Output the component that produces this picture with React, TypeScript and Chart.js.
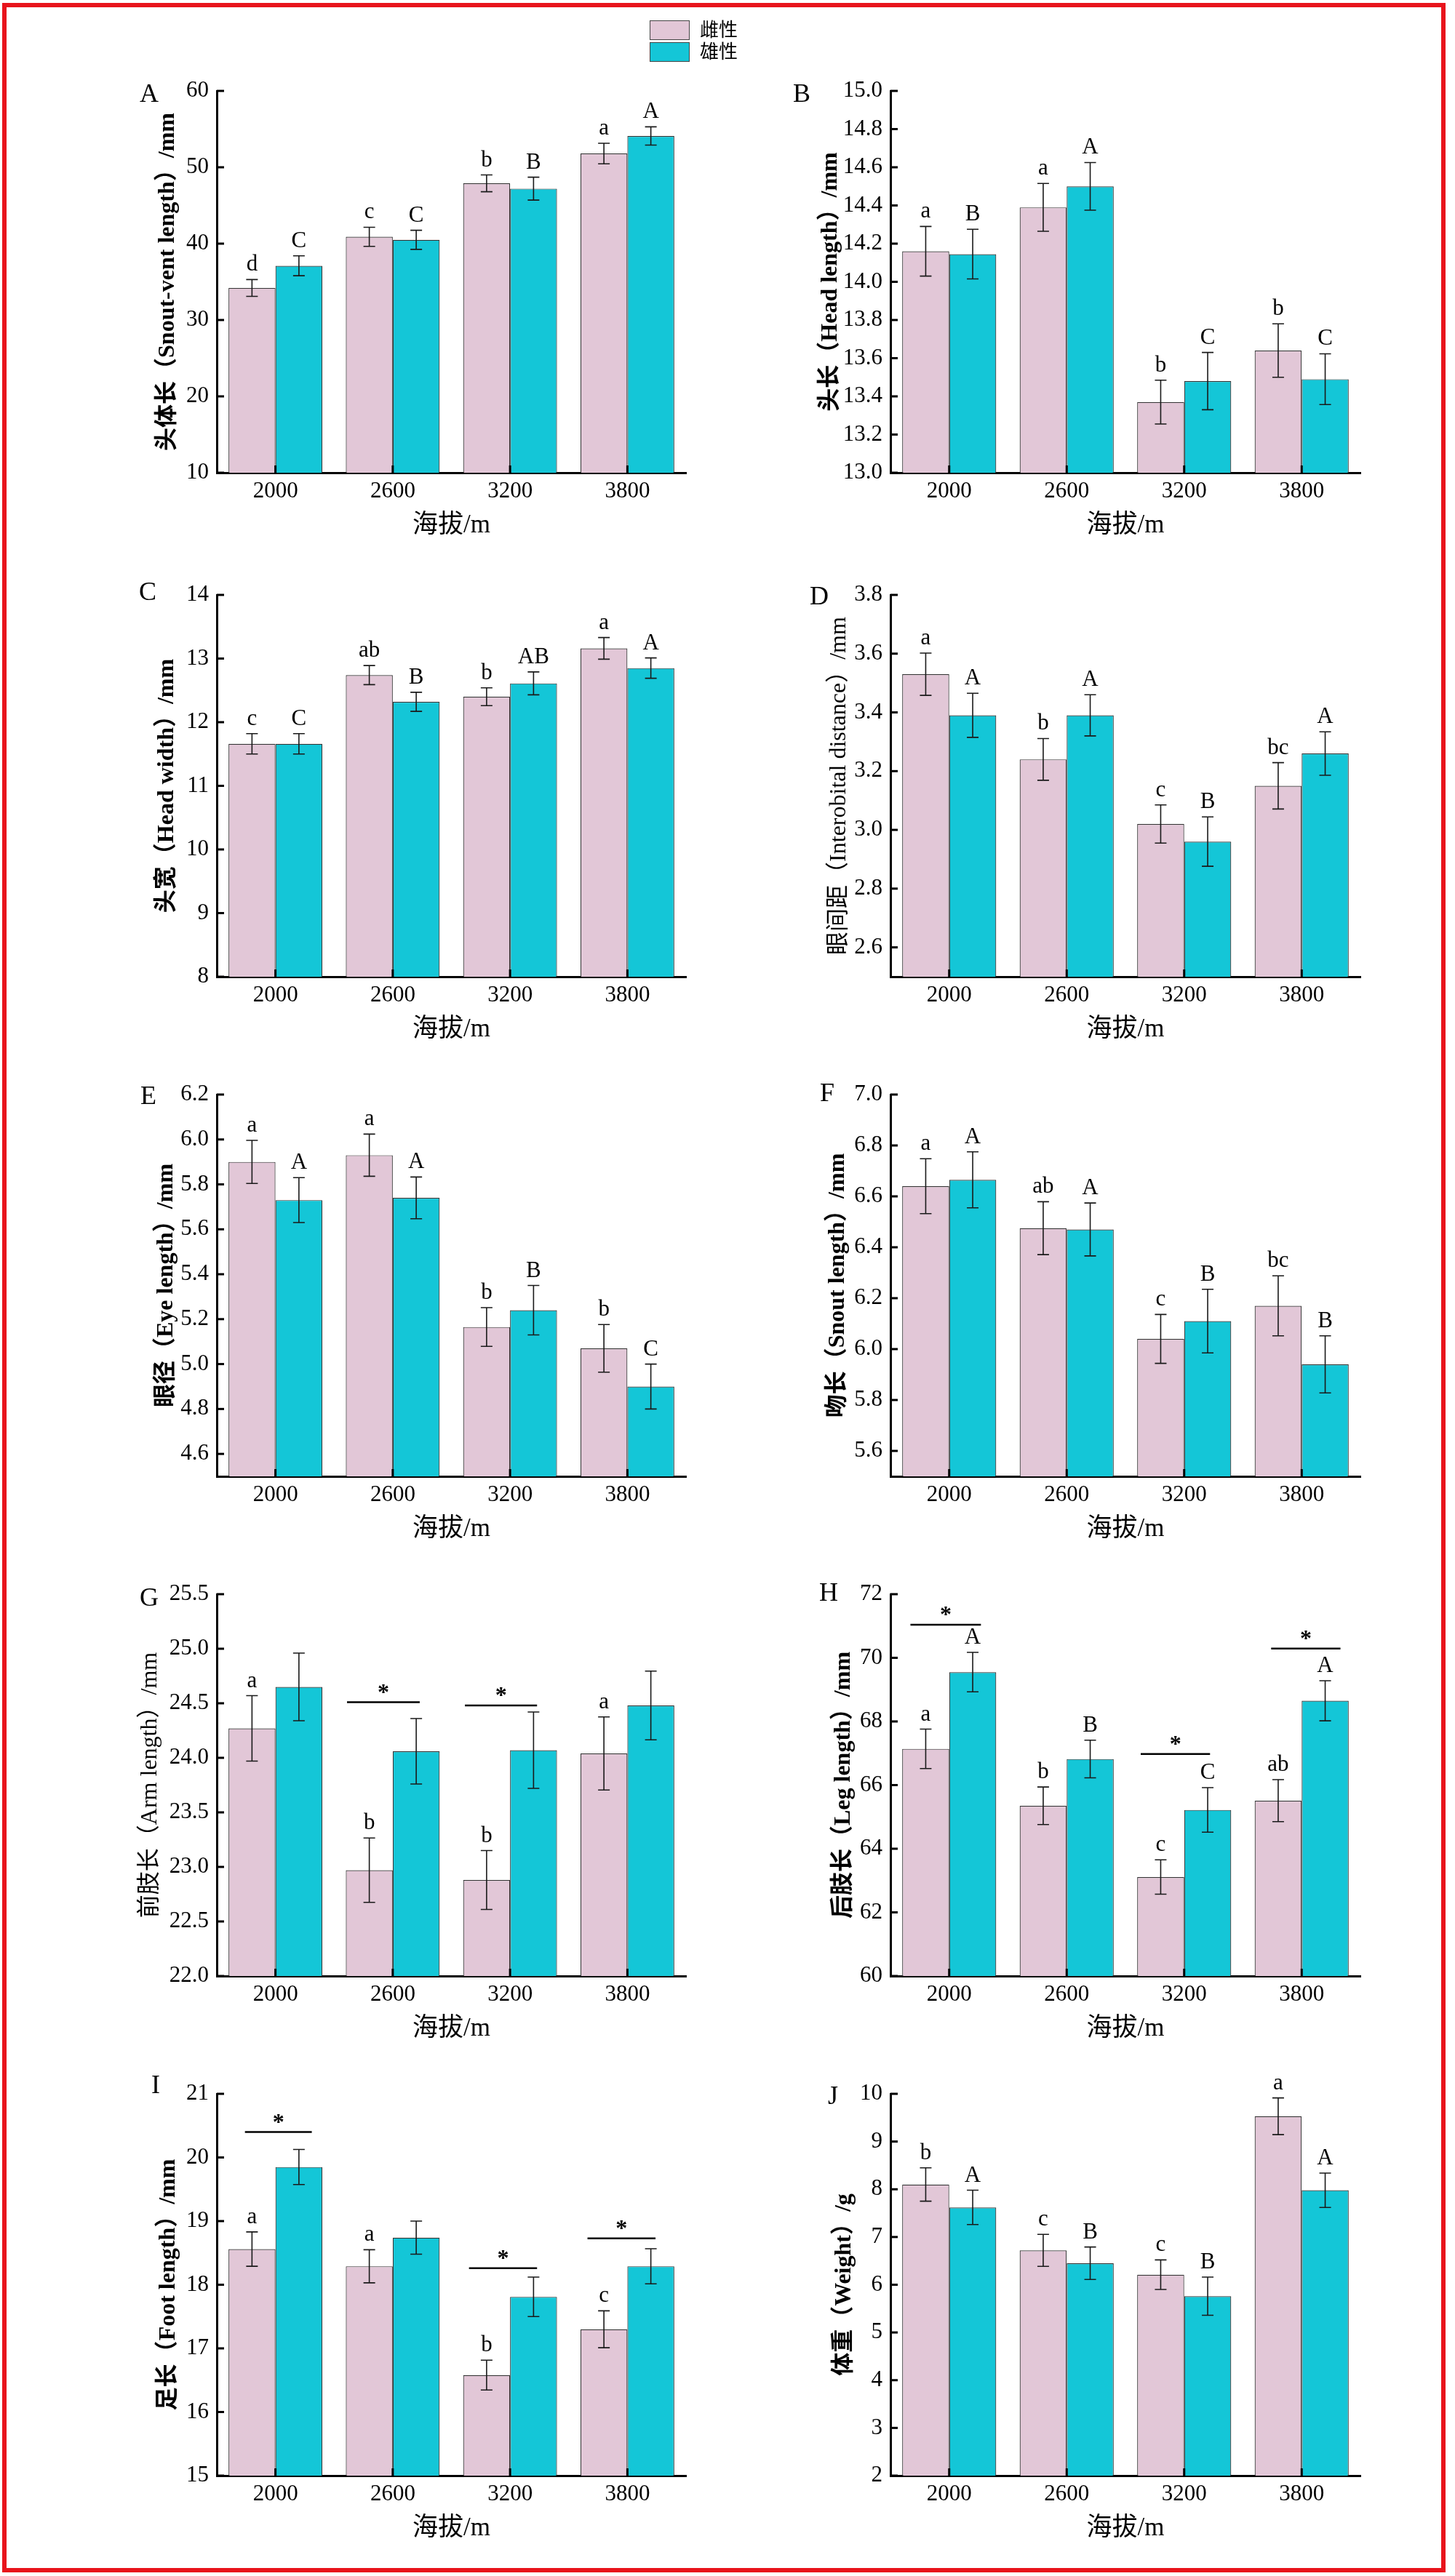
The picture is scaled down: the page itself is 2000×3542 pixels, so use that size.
import React, { useEffect, useRef } from 'react';
import { Chart, registerables } from 'chart.js';

Chart.register(...registerables);

// ---------- data ----------
const altitudes = ['2000', '2600', '3200', '3800'];
const seriesNames = ['雌性', '雄性'];

// A 头体长
const svlFemale = [34.2, 40.9, 47.9, 51.8];
const svlFemaleErr = [1.1, 1.25, 1.1, 1.35];
const svlMale = [37.1, 40.5, 47.2, 54.1];
const svlMaleErr = [1.3, 1.25, 1.5, 1.2];
const svlFemaleLetters = ['d', 'c', 'b', 'a'];
const svlMaleLetters = ['C', 'C', 'B', 'A'];
const svlTicks = [10, 20, 30, 40, 50, 60];

// B 头长
const hlFemale = [14.16, 14.39, 13.37, 13.64];
const hlFemaleErr = [0.13, 0.125, 0.115, 0.14];
const hlMale = [14.145, 14.5, 13.48, 13.49];
const hlMaleErr = [0.13, 0.125, 0.15, 0.133];
const hlFemaleLetters = ['a', 'a', 'b', 'b'];
const hlMaleLetters = ['B', 'A', 'C', 'C'];
const hlTicks = [13.0, 13.2, 13.4, 13.6, 13.8, 14.0, 14.2, 14.4, 14.6, 14.8, 15.0];

// C 头宽
const hwFemale = [11.66, 12.74, 12.4, 13.16];
const hwFemaleErr = [0.16, 0.15, 0.14, 0.17];
const hwMale = [11.66, 12.32, 12.61, 12.85];
const hwMaleErr = [0.16, 0.15, 0.18, 0.16];
const hwFemaleLetters = ['c', 'ab', 'b', 'a'];
const hwMaleLetters = ['C', 'B', 'AB', 'A'];
const hwTicks = [8, 9, 10, 11, 12, 13, 14];

// D 眼间距
const iodFemale = [3.53, 3.24, 3.02, 3.15];
const iodFemaleErr = [0.072, 0.071, 0.065, 0.079];
const iodMale = [3.39, 3.39, 2.96, 3.26];
const iodMaleErr = [0.075, 0.07, 0.084, 0.074];
const iodFemaleLetters = ['a', 'b', 'c', 'bc'];
const iodMaleLetters = ['A', 'A', 'B', 'A'];
const iodTicks = [2.6, 2.8, 3.0, 3.2, 3.4, 3.6, 3.8];

// E 眼径
const edFemale = [5.9, 5.93, 5.165, 5.07];
const edFemaleErr = [0.096, 0.094, 0.086, 0.106];
const edMale = [5.73, 5.74, 5.24, 4.9];
const edMaleErr = [0.1, 0.093, 0.11, 0.1];
const edFemaleLetters = ['a', 'a', 'b', 'b'];
const edMaleLetters = ['A', 'A', 'B', 'C'];
const edTicks = [4.6, 4.8, 5.0, 5.2, 5.4, 5.6, 5.8, 6.0, 6.2];

// F 吻长
const slFemale = [6.64, 6.475, 6.04, 6.17];
const slFemaleErr = [0.108, 0.104, 0.096, 0.118];
const slMale = [6.665, 6.47, 6.11, 5.94];
const slMaleErr = [0.11, 0.104, 0.125, 0.112];
const slFemaleLetters = ['a', 'ab', 'c', 'bc'];
const slMaleLetters = ['A', 'A', 'B', 'B'];
const slTicks = [5.6, 5.8, 6.0, 6.2, 6.4, 6.6, 6.8, 7.0];

// G 前肢长
const armFemale = [24.27, 22.97, 22.88, 24.04];
const armFemaleErr = [0.3, 0.295, 0.27, 0.335];
const armMale = [24.65, 24.06, 24.07, 24.48];
const armMaleErr = [0.31, 0.3, 0.35, 0.315];
const armFemaleLetters = ['a', 'b', 'b', 'a'];
const armMaleLetters = ['', '', '', ''];
const armTicks = [22.0, 22.5, 23.0, 23.5, 24.0, 24.5, 25.0, 25.5];
const armSigCats = [1, 2];
const armSigLevels = [24.51, 24.48];
const armSigFrom = [-0.39, -0.385];
const armSigTo = [0.23, 0.23];

// H 后肢长
const legFemale = [67.14, 65.35, 63.11, 65.51];
const legFemaleErr = [0.62, 0.59, 0.54, 0.66];
const legMale = [69.55, 66.82, 65.22, 68.65];
const legMaleErr = [0.62, 0.59, 0.7, 0.63];
const legFemaleLetters = ['a', 'b', 'c', 'ab'];
const legMaleLetters = ['A', 'B', 'C', 'A'];
const legTicks = [60, 62, 64, 66, 68, 70, 72];
const legSigCats = [0, 2, 3];
const legSigLevels = [71.04, 66.98, 70.29];
const legSigFrom = [-0.33, -0.37, -0.26];
const legSigTo = [0.27, 0.22, 0.33];

// I 足长
const footFemale = [18.56, 18.29, 16.58, 17.3];
const footFemaleErr = [0.27, 0.26, 0.235, 0.29];
const footMale = [19.85, 18.74, 17.81, 18.29];
const footMaleErr = [0.275, 0.26, 0.31, 0.275];
const footFemaleLetters = ['a', 'a', 'b', 'c'];
const footMaleLetters = ['', '', '', ''];
const footTicks = [15, 16, 17, 18, 19, 20, 21];
const footSigCats = [0, 2, 3];
const footSigLevels = [20.4, 18.26, 18.73];
const footSigFrom = [-0.26, -0.35, -0.34];
const footSigTo = [0.31, 0.23, 0.24];

// J 体重
const wtFemale = [8.1, 6.72, 6.21, 9.53];
const wtFemaleErr = [0.35, 0.335, 0.31, 0.385];
const wtMale = [7.62, 6.45, 5.76, 7.98];
const wtMaleErr = [0.36, 0.34, 0.4, 0.36];
const wtFemaleLetters = ['b', 'c', 'c', 'a'];
const wtMaleLetters = ['A', 'B', 'B', 'A'];
const wtTicks = [2, 3, 4, 5, 6, 7, 8, 9, 10];

// ---------- style / layout ----------
const FONT = '"Liberation Serif", "Noto Sans CJK SC", serif';
const PINK = '#E2C7D7';
const CYAN = '#14C6D7';
const ROW_TOPS = [125, 818, 1505, 2192, 2879];
const COL_X = [0, 1000];
const AXIS_X = [298, 1224];
const AREA_RIGHT = [943, 1870];
const PAD_TOP = 110;
const AREA_H = 525;
const XAXIS_H = 94;
const CANVAS_W = 1000;
const CANVAS_H = PAD_TOP + AREA_H + XAXIS_H;

type Panel = {
  key: string;
  title: string;
  female: number[];
  femaleErr: number[];
  male: number[];
  maleErr: number[];
  femaleLetters: string[];
  maleLetters: string[];
  ticks: number[];
  min: number;
  max: number;
  decimals: number;
  sigCats: number[];
  sigLevels: number[];
  sigFrom: number[];
  sigTo: number[];
  col: number;
  row: number;
  titleOffset: number;
  titleBold: boolean;
  letterX: number;
  letterDy: number;
};

const panels: Panel[] = [
  { key: 'A', title: '头体长（Snout-vent length）/mm', female: svlFemale, femaleErr: svlFemaleErr, male: svlMale, maleErr: svlMaleErr, femaleLetters: svlFemaleLetters, maleLetters: svlMaleLetters, ticks: svlTicks, min: 10, max: 60, decimals: 0, sigCats: [], sigLevels: [], sigFrom: [], sigTo: [], col: 0, row: 0, titleOffset: 67, titleBold: true, letterX: 205, letterDy: 6 },
  { key: 'B', title: '头长（Head length）/mm', female: hlFemale, femaleErr: hlFemaleErr, male: hlMale, maleErr: hlMaleErr, femaleLetters: hlFemaleLetters, maleLetters: hlMaleLetters, ticks: hlTicks, min: 13, max: 15, decimals: 1, sigCats: [], sigLevels: [], sigFrom: [], sigTo: [], col: 1, row: 0, titleOffset: 82, titleBold: true, letterX: 1102, letterDy: 6 },
  { key: 'C', title: '头宽（Head width）/mm', female: hwFemale, femaleErr: hwFemaleErr, male: hwMale, maleErr: hwMaleErr, femaleLetters: hwFemaleLetters, maleLetters: hwMaleLetters, ticks: hwTicks, min: 8, max: 14, decimals: 0, sigCats: [], sigLevels: [], sigFrom: [], sigTo: [], col: 0, row: 1, titleOffset: 68, titleBold: true, letterX: 203, letterDy: -2 },
  { key: 'D', title: '眼间距（Interobital distance）/mm', female: iodFemale, femaleErr: iodFemaleErr, male: iodMale, maleErr: iodMaleErr, femaleLetters: iodFemaleLetters, maleLetters: iodMaleLetters, ticks: iodTicks, min: 2.5, max: 3.8, decimals: 1, sigCats: [], sigLevels: [], sigFrom: [], sigTo: [], col: 1, row: 1, titleOffset: 70, titleBold: false, letterX: 1126, letterDy: 4 },
  { key: 'E', title: '眼径（Eye length）/mm', female: edFemale, femaleErr: edFemaleErr, male: edMale, maleErr: edMaleErr, femaleLetters: edFemaleLetters, maleLetters: edMaleLetters, ticks: edTicks, min: 4.5, max: 6.2, decimals: 1, sigCats: [], sigLevels: [], sigFrom: [], sigTo: [], col: 0, row: 2, titleOffset: 69, titleBold: true, letterX: 204, letterDy: 4 },
  { key: 'F', title: '吻长（Snout length）/mm', female: slFemale, femaleErr: slFemaleErr, male: slMale, maleErr: slMaleErr, femaleLetters: slFemaleLetters, maleLetters: slMaleLetters, ticks: slTicks, min: 5.5, max: 7.0, decimals: 1, sigCats: [], sigLevels: [], sigFrom: [], sigTo: [], col: 1, row: 2, titleOffset: 72, titleBold: true, letterX: 1137, letterDy: 0 },
  { key: 'G', title: '前肢长（Arm length）/mm', female: armFemale, femaleErr: armFemaleErr, male: armMale, maleErr: armMaleErr, femaleLetters: armFemaleLetters, maleLetters: armMaleLetters, ticks: armTicks, min: 22, max: 25.5, decimals: 1, sigCats: armSigCats, sigLevels: armSigLevels, sigFrom: armSigFrom, sigTo: armSigTo, col: 0, row: 3, titleOffset: 91, titleBold: false, letterX: 205, letterDy: 7 },
  { key: 'H', title: '后肢长（Leg length）/mm', female: legFemale, femaleErr: legFemaleErr, male: legMale, maleErr: legMaleErr, femaleLetters: legFemaleLetters, maleLetters: legMaleLetters, ticks: legTicks, min: 60, max: 72, decimals: 0, sigCats: legSigCats, sigLevels: legSigLevels, sigFrom: legSigFrom, sigTo: legSigTo, col: 1, row: 3, titleOffset: 64, titleBold: true, letterX: 1139, letterDy: 0 },
  { key: 'I', title: '足长（Foot length）/mm', female: footFemale, femaleErr: footFemaleErr, male: footMale, maleErr: footMaleErr, femaleLetters: footFemaleLetters, maleLetters: footMaleLetters, ticks: footTicks, min: 15, max: 21, decimals: 0, sigCats: footSigCats, sigLevels: footSigLevels, sigFrom: footSigFrom, sigTo: footSigTo, col: 0, row: 4, titleOffset: 66, titleBold: true, letterX: 214, letterDy: -10 },
  { key: 'J', title: '体重（Weight）/g', female: wtFemale, femaleErr: wtFemaleErr, male: wtMale, maleErr: wtMaleErr, femaleLetters: wtFemaleLetters, maleLetters: wtMaleLetters, ticks: wtTicks, min: 2, max: 10, decimals: 0, sigCats: [], sigLevels: [], sigFrom: [], sigTo: [], col: 1, row: 4, titleOffset: 63, titleBold: true, letterX: 1145, letterDy: 5 },
];

function makeOverlay(p: Panel) {
  return {
    id: 'overlay' + p.key,
    afterDatasetsDraw(chart: any) {
      const ctx = chart.ctx as CanvasRenderingContext2D;
      const xs = chart.scales.x;
      const ys = chart.scales.y;
      const area = chart.chartArea;
      ctx.save();
      // inward ticks
      ctx.strokeStyle = '#000';
      ctx.lineWidth = 3;
      ys.ticks.forEach((t: any) => {
        const py = ys.getPixelForValue(t.value);
        ctx.beginPath();
        ctx.moveTo(area.left, py);
        ctx.lineTo(area.left + 10, py);
        ctx.stroke();
      });
      altitudes.forEach((_, i) => {
        const px = xs.getPixelForValue(i);
        ctx.beginPath();
        ctx.moveTo(px, area.bottom);
        ctx.lineTo(px, area.bottom - 10);
        ctx.stroke();
      });
      // error bars + letters
      const groups: [number[], number[], string[]][] = [
        [p.female, p.femaleErr, p.femaleLetters],
        [p.male, p.maleErr, p.maleLetters],
      ];
      groups.forEach(([means, errs, letters], di) => {
        const meta = chart.getDatasetMeta(di);
        meta.data.forEach((el: any, j: number) => {
          const cx = el.x;
          const top = ys.getPixelForValue(means[j] + errs[j]);
          const bot = ys.getPixelForValue(means[j] - errs[j]);
          ctx.strokeStyle = '#1a1a1a';
          ctx.lineWidth = 1.6;
          ctx.beginPath();
          ctx.moveTo(cx, top);
          ctx.lineTo(cx, bot);
          ctx.moveTo(cx - 8, top);
          ctx.lineTo(cx + 8, top);
          ctx.moveTo(cx - 8, bot);
          ctx.lineTo(cx + 8, bot);
          ctx.stroke();
          if (letters[j]) {
            ctx.fillStyle = '#000';
            ctx.font = `31px ${FONT}`;
            ctx.textAlign = 'center';
            ctx.textBaseline = 'alphabetic';
            ctx.fillText(letters[j], cx, top - 12);
          }
        });
      });
      // significance lines
      p.sigCats.forEach((c, k) => {
        const x1 = xs.getPixelForValue(c + p.sigFrom[k]);
        const x2 = xs.getPixelForValue(c + p.sigTo[k]);
        const py = ys.getPixelForValue(p.sigLevels[k]);
        ctx.strokeStyle = '#000';
        ctx.lineWidth = 2.5;
        ctx.beginPath();
        ctx.moveTo(x1, py);
        ctx.lineTo(x2, py);
        ctx.stroke();
        ctx.fillStyle = '#000';
        ctx.font = `bold 32px ${FONT}`;
        ctx.textAlign = 'center';
        ctx.textBaseline = 'alphabetic';
        ctx.fillText('*', (x1 + x2) / 2, py - 4);
      });
      // panel letter
      ctx.fillStyle = '#000';
      ctx.font = `36px ${FONT}`;
      ctx.textAlign = 'center';
      ctx.textBaseline = 'middle';
      ctx.fillText(p.key, p.letterX - COL_X[p.col], area.top + p.letterDy);
      ctx.restore();
    },
  };
}

function PanelChart({ p }: { p: Panel }) {
  const ref = useRef<HTMLCanvasElement>(null);
  useEffect(() => {
    if (!ref.current) return;
    const axisOff = AXIS_X[p.col] - COL_X[p.col];
    const rightPad = CANVAS_W - (AREA_RIGHT[p.col] - COL_X[p.col]);
    const chart = new Chart(ref.current, {
      type: 'bar',
      data: {
        labels: altitudes,
        datasets: [
          { label: seriesNames[0], data: p.female, backgroundColor: PINK, borderColor: '#333', borderWidth: 1.2, barPercentage: 1, categoryPercentage: 0.8 },
          { label: seriesNames[1], data: p.male, backgroundColor: CYAN, borderColor: '#333', borderWidth: 1.2, barPercentage: 1, categoryPercentage: 0.8 },
        ],
      },
      options: {
        animation: false,
        responsive: true,
        maintainAspectRatio: false,
        events: [],
        layout: { padding: { top: PAD_TOP, left: 0, right: rightPad, bottom: 0 } },
        plugins: { legend: { display: false }, tooltip: { enabled: false }, title: { display: false } },
        scales: {
          x: {
            type: 'category',
            grid: { display: false, drawTicks: false },
            border: { display: true, color: '#000', width: 3 },
            ticks: { color: '#000', font: { family: FONT, size: 31 }, padding: 7, maxRotation: 0 },
            title: { display: true, text: '海拔/m', color: '#000', font: { family: FONT, size: 35 }, padding: 0 },
            afterFit: (s: any) => { s.height = XAXIS_H; },
          },
          y: {
            type: 'linear',
            min: p.min,
            max: p.max,
            grid: { display: false, drawTicks: false },
            border: { display: true, color: '#000', width: 3 },
            ticks: {
              color: '#000',
              font: { family: FONT, size: 31 },
              padding: 11,
              callback: (v: any) => Number(v).toFixed(p.decimals),
            },
            afterBuildTicks: (s: any) => { s.ticks = p.ticks.map((v) => ({ value: v })); },
            title: {
              display: true,
              text: p.title,
              color: '#000',
              font: { family: FONT, size: 32, weight: p.titleBold ? 'bold' : 'normal' },
              padding: { top: axisOff - p.titleOffset - 19.2, bottom: 0 },
            },
            afterFit: (s: any) => { s.width = axisOff; },
          },
        },
      } as any,
      plugins: [makeOverlay(p)],
    });
    return () => chart.destroy();
  }, [p]);
  return (
    <div
      style={{
        position: 'absolute',
        left: COL_X[p.col],
        top: ROW_TOPS[p.row] - PAD_TOP,
        width: CANVAS_W,
        height: CANVAS_H,
      }}
    >
      <canvas ref={ref} />
    </div>
  );
}

export default function App() {
  const legendRows = [
    { name: seriesNames[0], color: PINK, top: 28 },
    { name: seriesNames[1], color: CYAN, top: 58 },
  ];
  return (
    <div style={{ position: 'absolute', left: 0, top: 0, width: 2000, height: 3542, background: '#fff', overflow: 'hidden' }}>
      {panels.map((p) => (
        <PanelChart key={p.key} p={p} />
      ))}
      {legendRows.map((r) => (
        <React.Fragment key={r.name}>
          <div style={{ position: 'absolute', left: 893, top: r.top, width: 55, height: 27, background: r.color, border: '1.5px solid #444', boxSizing: 'border-box' }} />
          <div style={{ position: 'absolute', left: 962, top: r.top, height: 27, lineHeight: '27px', fontSize: 26, fontFamily: FONT, color: '#000', whiteSpace: 'nowrap' }}>{r.name}</div>
        </React.Fragment>
      ))}
      <div style={{ position: 'absolute', left: 3, top: 4, width: 1984, height: 3533, border: '6px solid #e8141c', boxSizing: 'border-box', pointerEvents: 'none' }} />
    </div>
  );
}
